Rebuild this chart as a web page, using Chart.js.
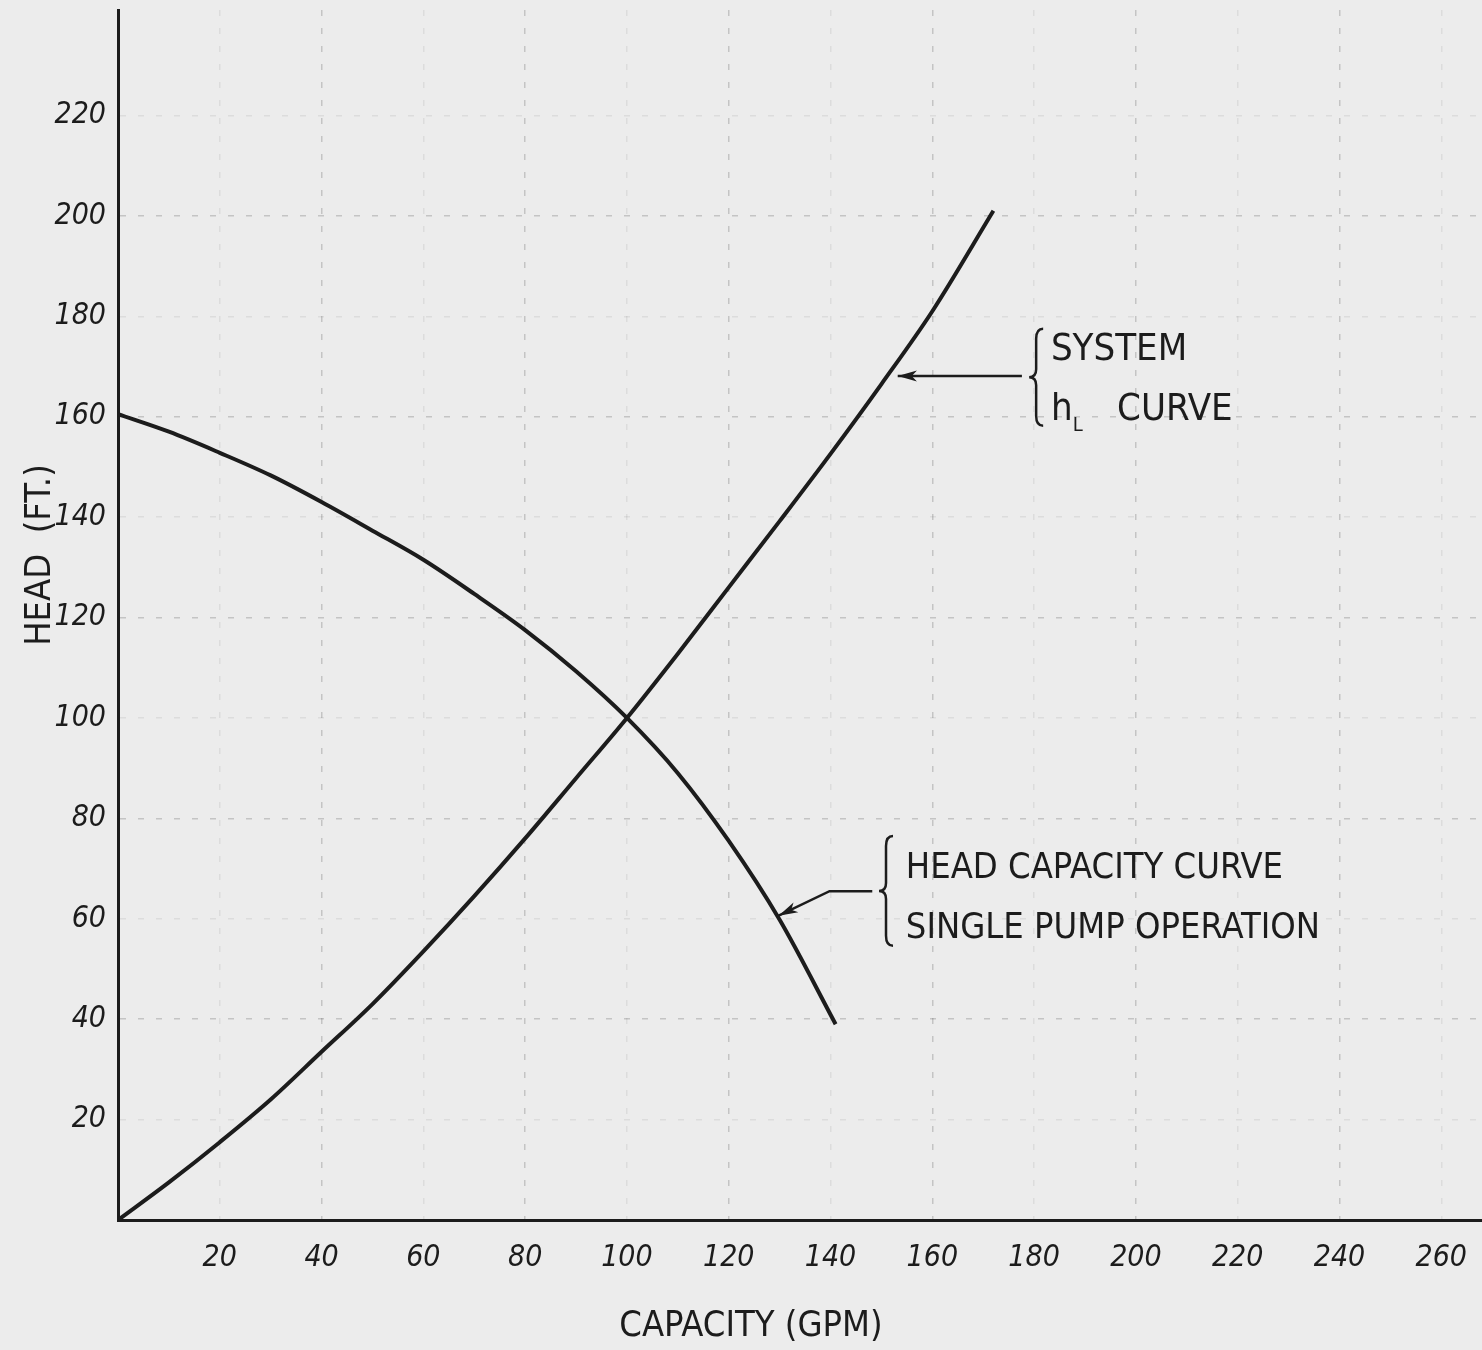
<!DOCTYPE html>
<html lang="en">
<head>
  <meta charset="UTF-8">
  <title>Head / Capacity</title>
  <script src="https://cdn.jsdelivr.net/npm/chart.js"></script>
  <style>
    html, body { margin: 0; padding: 0; background: #ececec; }
    #wrap { width: 1482px; height: 1350px; }
  </style>
</head>
<body>
  <div id="wrap"><canvas id="pumpChart" width="1482" height="1350"></canvas></div>

  <script>
    // values (GPM, FT)
    const systemGpm  = [0, 10, 20, 30, 40, 50, 60, 70, 80, 90, 100, 110, 120, 130, 140, 150, 160, 172];
    const systemHead = [0, 7.5, 15.5, 24, 33.5, 43, 53.5, 64.5, 76, 88, 100, 112.8, 126, 139.2, 152.6, 166.5, 181, 201];

    const pumpGpm  = [0, 10, 20, 30, 40, 50, 60, 70, 80, 90, 100, 110, 120, 130, 141];
    const pumpHead = [160.5, 157, 152.8, 148.3, 143, 137.3, 131.5, 124.7, 117.5, 109.3, 100, 89, 75.5, 59.8, 39];

    const xTicks = [20, 40, 60, 80, 100, 120, 140, 160, 180, 200, 220, 240, 260];
    const yTicks = [20, 40, 60, 80, 100, 120, 140, 160, 180, 200, 220];

    const FONT = '"DejaVu Sans Condensed", "Liberation Sans Narrow", "DejaVu Sans", sans-serif';
    const INK = '#1c1c1c';

    function toPoints(xs, ys) {
      return xs.map((x, i) => ({ x: x, y: ys[i] }));
    }

    // paper colour behind everything
    const paper = {
      id: 'paper',
      beforeDraw(chart) {
        const ctx = chart.ctx;
        ctx.save();
        ctx.fillStyle = '#ececec';
        ctx.fillRect(0, 0, chart.width, chart.height);
        ctx.restore();
      }
    };

    // hand lettering: axis titles, braces and arrows
    const notes = {
      id: 'notes',
      afterDatasetsDraw(chart) {
        const ctx = chart.ctx;
        const xs = chart.scales.x, ys = chart.scales.y;
        const px = v => xs.getPixelForValue(v);
        const py = v => ys.getPixelForValue(v);

        ctx.save();
        ctx.fillStyle = INK;
        ctx.strokeStyle = INK;
        ctx.textBaseline = 'alphabetic';

        // axis titles
        ctx.font = '36px ' + FONT;
        ctx.textAlign = 'center';
        ctx.fillText('CAPACITY (GPM)', 751, 1336);
        ctx.save();
        ctx.translate(50, 555);
        ctx.rotate(-Math.PI / 2);
        ctx.fillText('HEAD  (FT.)', 0, 0);
        ctx.restore();

        // system curve label
        ctx.textAlign = 'left';
        ctx.font = '38px ' + FONT;
        ctx.fillText('SYSTEM', px(183.3), py(171.3));
        ctx.fillText('h', px(183.3), py(159.4));
        ctx.fillText('CURVE', px(196.3), py(159.4));
        ctx.font = '20px ' + FONT;
        ctx.fillText('L', px(187.6), py(157.2));
        brace(ctx, px(180.4), py(177.5), py(158.2));
        arrow(ctx, [[px(177.6), py(168.1)], [px(153.2), py(168.1)]]);

        // pump curve label
        ctx.font = '36px ' + FONT;
        ctx.fillText('HEAD CAPACITY CURVE', px(154.8), py(68.2));
        ctx.fillText('SINGLE PUMP OPERATION', px(154.8), py(56.2));
        brace(ctx, px(150.9), py(76.5), py(54.6));
        arrow(ctx, [[px(148.2), py(65.5)], [px(139.8), py(65.5)], [px(129.8), py(60.6)]]);

        ctx.restore();
      }
    };

    function brace(ctx, x, top, bottom) {
      const mid = (top + bottom) / 2;
      const w = 7;
      ctx.save();
      ctx.lineWidth = 2.5;
      ctx.beginPath();
      ctx.moveTo(x + w, top);
      ctx.quadraticCurveTo(x, top, x, top + 10);
      ctx.lineTo(x, mid - 8);
      ctx.quadraticCurveTo(x, mid, x - w, mid);
      ctx.quadraticCurveTo(x, mid, x, mid + 8);
      ctx.lineTo(x, bottom - 10);
      ctx.quadraticCurveTo(x, bottom, x + w, bottom);
      ctx.stroke();
      ctx.restore();
    }

    function arrow(ctx, pts) {
      ctx.save();
      ctx.lineWidth = 2.5;
      ctx.beginPath();
      ctx.moveTo(pts[0][0], pts[0][1]);
      for (let i = 1; i < pts.length; i++) ctx.lineTo(pts[i][0], pts[i][1]);
      ctx.stroke();
      const a = pts[pts.length - 2], b = pts[pts.length - 1];
      const ang = Math.atan2(b[1] - a[1], b[0] - a[0]);
      const len = 20, spread = 0.28;
      ctx.beginPath();
      ctx.moveTo(b[0], b[1]);
      ctx.lineTo(b[0] - len * Math.cos(ang - spread), b[1] - len * Math.sin(ang - spread));
      ctx.lineTo(b[0] - len * 0.7 * Math.cos(ang), b[1] - len * 0.7 * Math.sin(ang));
      ctx.lineTo(b[0] - len * Math.cos(ang + spread), b[1] - len * Math.sin(ang + spread));
      ctx.closePath();
      ctx.fill();
      ctx.restore();
    }

    function gridColor(ctx) {
      const v = ctx.tick ? ctx.tick.value : null;
      if (v === null || v === 0 || v % 20 !== 0) return 'rgba(0,0,0,0)';
      return v % 40 === 0 ? 'rgba(70,70,70,0.24)' : 'rgba(70,70,70,0.09)';
    }

    const tickFont = { family: FONT, size: 30, style: 'italic' };

    new Chart(document.getElementById('pumpChart'), {
      type: 'scatter',
      data: {
        datasets: [
          {
            label: 'System hL curve',
            data: toPoints(systemGpm, systemHead),
            showLine: true,
            borderColor: INK,
            borderWidth: 4,
            pointRadius: 0,
            cubicInterpolationMode: 'monotone'
          },
          {
            label: 'Head capacity curve, single pump operation',
            data: toPoints(pumpGpm, pumpHead),
            showLine: true,
            borderColor: INK,
            borderWidth: 4,
            pointRadius: 0,
            cubicInterpolationMode: 'monotone'
          }
        ]
      },
      options: {
        responsive: false,
        animation: false,
        layout: { padding: { top: 10, left: 0, right: 0, bottom: 0 } },
        plugins: {
          legend: { display: false },
          tooltip: { enabled: false }
        },
        scales: {
          x: {
            type: 'linear',
            min: 0,
            max: 268,
            afterFit(scale) {
              scale.height = 130;
              scale.paddingLeft = 0;
              scale.paddingRight = 0;
            },
            afterBuildTicks(scale) {
              scale.ticks = [{ value: 0 }].concat(xTicks.map(v => ({ value: v })));
            },
            ticks: {
              color: INK,
              font: tickFont,
              padding: 20,
              maxRotation: 0,
              autoSkip: false,
              callback: v => (v === 0 ? '' : String(v))
            },
            grid: { color: gridColor, lineWidth: 1.5, drawTicks: false },
            border: { color: INK, width: 3, dash: [6, 12] }
          },
          y: {
            type: 'linear',
            min: 0,
            max: 241,
            afterFit(scale) {
              scale.width = 118;
              scale.paddingTop = 0;
              scale.paddingBottom = 0;
            },
            afterBuildTicks(scale) {
              scale.ticks = [{ value: 0 }].concat(yTicks.map(v => ({ value: v })));
            },
            ticks: {
              color: INK,
              font: tickFont,
              padding: 12,
              autoSkip: false,
              callback: v => (v === 0 ? '' : String(v))
            },
            grid: { color: gridColor, lineWidth: 1.5, drawTicks: false },
            border: { color: INK, width: 3, dash: [6, 12] }
          }
        }
      },
      plugins: [paper, notes]
    });
  </script>
</body>
</html>
